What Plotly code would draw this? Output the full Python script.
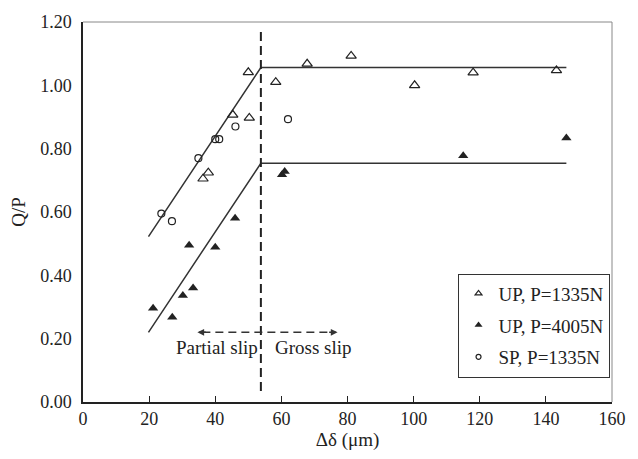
import plotly.graph_objects as go

# UP, P=1335N (open triangles)
up1335_x = [50, 58.3, 45.3, 50.3, 36.3, 37.9, 67.8, 81.1, 100.3, 118, 143.2]
up1335_y = [1.041, 1.01, 0.907, 0.897, 0.705, 0.724, 1.068, 1.093, 1.0, 1.04, 1.047]

# UP, P=4005N (filled triangles)
up4005_x = [21.2, 27, 30.2, 33.3, 32.1, 40, 46, 60.2, 61, 115, 146.2]
up4005_y = [0.296, 0.268, 0.336, 0.36, 0.495, 0.489, 0.58, 0.718, 0.728, 0.778, 0.834]

# SP, P=1335N (open circles)
sp1335_x = [23.7, 26.9, 34.9, 40, 41.2, 46.1, 62]
sp1335_y = [0.595, 0.571, 0.77, 0.83, 0.83, 0.87, 0.893]

# fitted trend lines
upper_line_x = [19.8, 53.8, 146.2]
upper_line_y = [0.522, 1.056, 1.056]
lower_line_x = [19.8, 53.8, 146.2]
lower_line_y = [0.22, 0.754, 0.754]

# slip boundary
boundary_x = 53.8
boundary_y = [0.035, 1.17]
arrow_y = 0.22
arrow_left_x = 34.6
arrow_right_x = 77.0

series_names = ["UP, P=1335N", "UP, P=4005N", "SP, P=1335N"]

x_ticks = [0, 20, 40, 60, 80, 100, 120, 140, 160]
y_ticks = [0.0, 0.2, 0.4, 0.6, 0.8, 1.0, 1.2]

FONT = "Times New Roman, Liberation Serif, serif"
INK = "#222222"
FS = 18

fig = go.Figure()

for lx, ly in [(upper_line_x, upper_line_y), (lower_line_x, lower_line_y)]:
    fig.add_trace(go.Scatter(x=lx, y=ly, mode="lines", showlegend=False,
                             line=dict(color="#333333", width=1.5), hoverinfo="skip"))

styles = [
    dict(symbol="triangle-up-open", color=INK, line=dict(width=1.2, color=INK)),
    dict(symbol="triangle-up", color=INK),
    dict(symbol="circle-open", color=INK, line=dict(width=1.2, color=INK)),
]
sizes = [9, 9, 7]
legend_sizes = [6, 7, 5]
data = [(up1335_x, up1335_y), (up4005_x, up4005_y), (sp1335_x, sp1335_y)]

for (dx, dy), name, st, sz in zip(data, series_names, styles, sizes):
    fig.add_trace(go.Scatter(x=dx, y=dy, mode="markers", name=name, showlegend=False,
                             marker=dict(size=sz, **st)))

for i, (name, st, sz) in enumerate(zip(series_names, styles, legend_sizes)):
    fig.add_trace(go.Scatter(x=[None], y=[None], mode="markers", name=name,
                             legendgroup=f"g{i}", marker=dict(size=sz, **st)))

shapes = [
    dict(type="line", xref="x", yref="y", x0=boundary_x, x1=boundary_x,
         y0=boundary_y[0], y1=boundary_y[1],
         line=dict(color=INK, width=2, dash="9px,5px")),
    dict(type="line", xref="x", yref="y", x0=arrow_left_x + 1.5, x1=arrow_right_x - 1.5,
         y0=arrow_y, y1=arrow_y,
         line=dict(color="#333333", width=1.5, dash="8px,5px")),
    dict(type="line", xref="paper", yref="paper", x0=0, x1=1, y0=1, y1=1,
         line=dict(color="#888888", width=1)),
    dict(type="line", xref="paper", yref="paper", x0=1, x1=1, y0=0, y1=1,
         line=dict(color="#888888", width=1)),
]

annotations = [
    dict(x=arrow_left_x, y=arrow_y, ax=arrow_left_x + 3, ay=arrow_y, xref="x", yref="y",
         axref="x", ayref="y", text="", showarrow=True, arrowhead=2, arrowsize=0.9,
         arrowwidth=1.5, arrowcolor="#333333"),
    dict(x=arrow_right_x, y=arrow_y, ax=arrow_right_x - 3, ay=arrow_y, xref="x", yref="y",
         axref="x", ayref="y", text="", showarrow=True, arrowhead=2, arrowsize=0.9,
         arrowwidth=1.5, arrowcolor="#333333"),
    dict(x=40.6, y=0.172, xref="x", yref="y", text="Partial slip", showarrow=False,
         font=dict(family=FONT, size=FS + 1, color=INK)),
    dict(x=69.6, y=0.172, xref="x", yref="y", text="Gross slip", showarrow=False,
         font=dict(family=FONT, size=FS + 1, color=INK)),
]

fig.update_layout(
    width=638, height=459,
    margin=dict(l=83, r=14, t=16, b=50),
    paper_bgcolor="white", plot_bgcolor="white",
    font=dict(family=FONT, size=FS, color=INK),
    shapes=shapes, annotations=annotations,
    legend=dict(x=0.708, y=0.338, xanchor="left", yanchor="top",
                bordercolor="#333333", borderwidth=1, bgcolor="white",
                traceorder="grouped", tracegroupgap=4, itemwidth=30,
                font=dict(family=FONT, size=FS + 1, color=INK)),
    xaxis=dict(range=[0, 160], tickvals=x_ticks, showgrid=False, zeroline=False,
               showline=True, linecolor=INK, linewidth=1.5,
               ticks="inside", ticklen=6, tickcolor=INK,
               title=dict(text="Δδ (μm)", standoff=4, font=dict(size=FS + 1))),
    yaxis=dict(range=[0, 1.2], tickvals=y_ticks, tickformat=".2f", showgrid=False,
               zeroline=False, showline=True, linecolor=INK, linewidth=1.5,
               ticks="", ticklabelstandoff=6,
               title=dict(text="Q/P", standoff=10, font=dict(size=FS + 1))),
)

fig.write_html("out.html")
